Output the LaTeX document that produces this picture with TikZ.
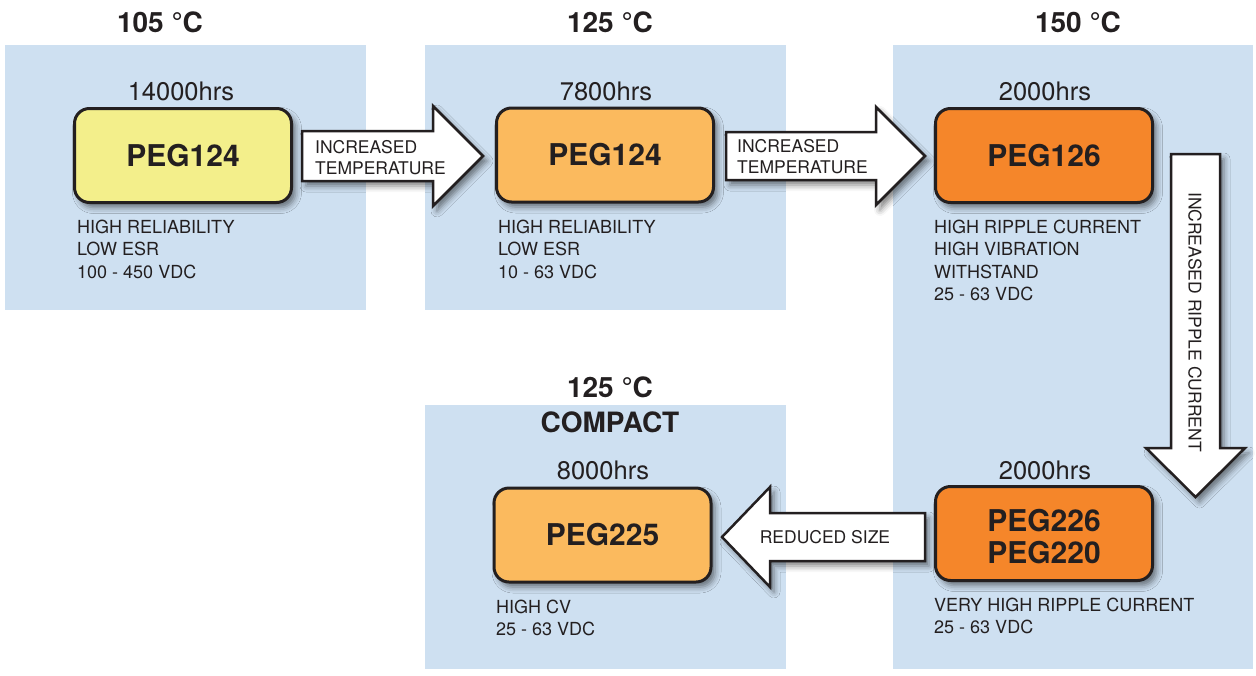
\documentclass[tikz,border=0pt]{standalone}
\usepackage{fontspec}
\setmainfont{TeX Gyre Heros}
\usetikzlibrary{shadows.blur}
\definecolor{panelblue}{HTML}{CEE0F1}
\definecolor{ink}{HTML}{231F20}
\definecolor{pyellow}{HTML}{F3EF8B}
\definecolor{plorange}{HTML}{FBBA5E}
\definecolor{porange}{HTML}{F5862A}
\tikzset{
  panelbg/.style={fill=panelblue, draw=none},
  softshadow/.style={blur shadow={shadow xshift=4pt, shadow yshift=-5pt, shadow blur radius=6pt, shadow opacity=50}},
  prodbox/.style={draw=ink, line width=3pt, rounded corners=15pt, minimum width=217pt, minimum height=94pt,
    inner sep=0pt, font=\fontsize{30}{33}\selectfont\bfseries, text=ink, align=center, softshadow},
  ttl/.style={font=\fontsize{28}{31}\selectfont\bfseries, text=ink, inner sep=0pt},
  hrs/.style={font=\fontsize{25.5}{28}\selectfont, text=ink, inner sep=0pt},
  dsc/.style={font=\fontsize{18}{22.3}\selectfont, text=ink, inner sep=0pt, align=left, anchor=north west},
  blockarrow/.style={draw=ink, fill=white, line width=2.5pt, line join=miter, softshadow},
  arrowtext/.style={font=\fontsize{17.5}{21}\selectfont, text=ink, inner sep=0pt, align=left},
}
\begin{document}
\begin{tikzpicture}[x=1pt, y=-1pt]
\useasboundingbox (0,0) rectangle (1256,675);
% panels
\fill[panelbg] (5,45) rectangle (366,310);
\fill[panelbg] (425,45) rectangle (786,310);
\fill[panelbg] (893,45) rectangle (1253,669);
\fill[panelbg] (425,405) rectangle (786,669);
% titles
\node[ttl] (t1) at (160,22) {105 °C};
\node[ttl] (t2) at (610,22) {125 °C};
\node[ttl] (t3) at (1078,22) {150 °C};
\node[ttl] (t4) at (610,387.5) {125 °C};
\node[ttl] (t4b) at (610,422.5) {COMPACT};
% hours
\node[hrs] (h1) at (181,91) {14000hrs};
\node[hrs] (h2) at (606,91) {7800hrs};
\node[hrs] (h3) at (1045,91.5) {2000hrs};
\node[hrs] (h5) at (1045,470) {2000hrs};
\node[hrs] (h4) at (603,470) {8000hrs};
% arrows
\draw[blockarrow] (302,131) -- (433,131) -- (433,106) -- (483,156) -- (433,206) -- (433,181) -- (302,181) -- cycle;
\draw[blockarrow] (726,132) -- (876,132) -- (876,107) -- (925,156) -- (876,205) -- (876,180) -- (726,180) -- cycle;
\draw[blockarrow] (1171,154) -- (1220,154) -- (1220,448) -- (1245,448) -- (1195.5,497) -- (1146,448) -- (1171,448) -- cycle;
\draw[blockarrow] (925,513) -- (770,513) -- (770,487) -- (722,537) -- (770,587) -- (770,561) -- (925,561) -- cycle;
\node[arrowtext, anchor=north west] (a1) at (315,140) {INCREASED\\TEMPERATURE};
\node[arrowtext, anchor=north west] (a2) at (737,139.5) {INCREASED\\TEMPERATURE};
\node[arrowtext, rotate=-90] (a3) at (1195,322) {INCREASED RIPPLE CURRENT};
\node[arrowtext] (a4) at (825,537) {REDUCED SIZE};
% product boxes
\node[prodbox, fill=pyellow] (b1) at (183,155.5) {PEG124};
\node[prodbox, fill=plorange] (b2) at (605,155) {PEG124};
\node[prodbox, fill=porange] (b3) at (1044,155.5) {PEG126};
\node[prodbox, fill=plorange] (b4) at (602.5,535) {PEG225};
\node[prodbox, fill=porange, text depth=0pt] (b5) at (1044,533.5) {\raisebox{11pt}{\begin{tabular}{@{}c@{}}PEG226\\[-1pt]PEG220\end{tabular}}};
% descriptions
\node[dsc] (d1) at (77,220) {HIGH RELIABILITY\\LOW ESR\\100 - 450 VDC};
\node[dsc] (d2) at (498,220) {HIGH RELIABILITY\\LOW ESR\\10 - 63 VDC};
\node[dsc] (d3) at (934,220) {HIGH RIPPLE CURRENT\\HIGH VIBRATION\\WITHSTAND\\25 - 63 VDC};
\node[dsc] (d4) at (496,600) {HIGH CV\\25 - 63 VDC};
\node[dsc] (d5) at (934,597.5) {VERY HIGH RIPPLE CURRENT\\25 - 63 VDC};
\end{tikzpicture}
\end{document}
